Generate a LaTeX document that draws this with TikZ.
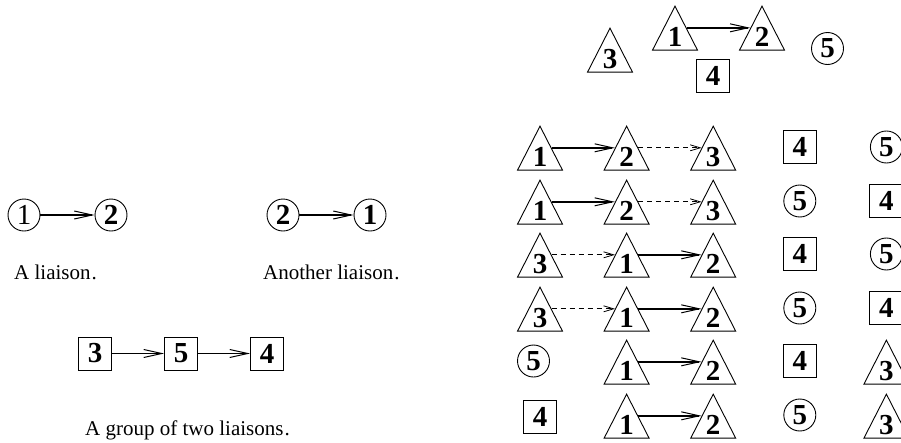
\documentclass[tikz,border=0pt]{standalone}
\usepackage{fontspec}
\setmainfont{Liberation Serif}
\usetikzlibrary{arrows.meta,shapes.geometric}
\tikzset{>/.tip={Straight Barb[length=18pt,width=8pt,line width=1pt]},
  num/.style={inner sep=0pt, line width=0.9pt, font=\fontsize{29}{29}\selectfont\bfseries},
  ball/.style={num, draw, circle, minimum size=32pt},
  box/.style={num, draw, minimum size=33pt},
  cone/.style={num, draw, isosceles triangle, isosceles triangle stretches,
    shape border rotate=90, minimum width=45pt, minimum height=44pt, anchor=apex},
  liaison/.style={->, line width=1.8pt},
  weak/.style={-{Straight Barb[length=10pt,width=6pt,line width=0.8pt]},
    line width=0.8pt, dash pattern=on 5pt off 4pt},
  caption/.style={inner sep=0pt, anchor=base west, font=\fontsize{21}{21}\selectfont}}

\begin{document}
\begin{tikzpicture}[x=1pt,y=-1pt]
\useasboundingbox (0,0) rectangle (901,442);
\clip (0,0) rectangle (901,442);
% left: liaisons
\node[ball, font=\fontsize{29}{29}\selectfont] (a1) at (24,215) {1};
\node[ball] (a2) at (111,215) {2};
\draw[liaison] (a1) to (a2);
\node[caption] (atxt) at (14,279.5) {A liaison\kern1pt.};
\node[ball] (b2) at (283,215) {2};
\node[ball] (b1) at (370,215) {1};
\draw[liaison] (b2) to (b1);
\node[caption] (btxt) at (263,279.5) {Another liaison\kern1pt.};
\node[box] (g3) at (95,353.5) {3};
\node[box] (g5) at (181,353.5) {5};
\node[box] (g4) at (267,353.5) {4};
\draw[liaison] (g3) to (g5);
\draw[liaison] (g5) to (g4);
\node[caption] (gtxt) at (85,435) {A group of two liaisons\kern1pt.};
% top right: the objects (triangles placed by their apex)
\node[cone] (t3) at (610,27) {3};
\node[cone] (t1) at (675,5) {1};
\node[cone] (t2) at (762,5) {2};
\node[box] (t4) at (713,76) {4};
\node[ball] (t5) at (827.5,48.5) {5};
\draw[liaison] (t1.right side) to (t2.left side);
% right: the orderings
\node[cone] (r1a) at (540,125) {1};
\node[cone] (r1b) at (626.6,125) {2};
\node[cone] (r1c) at (713.2,125) {3};
\node[box]  (r1d) at (799.8,147) {4};
\node[ball] (r1e) at (886.4,147) {5};
\node[cone] (r2a) at (540,179) {1};
\node[cone] (r2b) at (626.6,179) {2};
\node[cone] (r2c) at (713.2,179) {3};
\node[ball] (r2d) at (799.8,201) {5};
\node[box]  (r2e) at (886.4,201) {4};
\node[cone] (r3a) at (540,232) {3};
\node[cone] (r3b) at (626.6,232) {1};
\node[cone] (r3c) at (713.2,232) {2};
\node[box]  (r3d) at (799.8,254) {4};
\node[ball] (r3e) at (886.4,254) {5};
\node[cone] (r4a) at (540,286) {3};
\node[cone] (r4b) at (626.6,286) {1};
\node[cone] (r4c) at (713.2,286) {2};
\node[ball] (r4d) at (799.8,308) {5};
\node[box]  (r4e) at (886.4,308) {4};
\node[ball] (r5a) at (533.5,361) {5};
\node[cone] (r5b) at (626.6,339) {1};
\node[cone] (r5c) at (713.2,339) {2};
\node[box]  (r5d) at (799.8,361) {4};
\node[cone] (r5e) at (886.4,339) {3};
\node[box]  (r6a) at (540,417) {4};
\node[cone] (r6b) at (626.6,393) {1};
\node[cone] (r6c) at (713.2,393) {2};
\node[ball] (r6d) at (799.8,415) {5};
\node[cone] (r6e) at (886.4,393) {3};
\foreach \r in {1,2}
{
  \draw[liaison] (r\r a.right side) to (r\r b.left side);
  \draw[weak] (r\r b.right side) to (r\r c.left side);
}
\foreach \r in {3,4}
{
  \draw[weak] (r\r a.right side) to (r\r b.left side);
  \draw[liaison] (r\r b.right side) to (r\r c.left side);
}
\foreach \r in {5,6}
  \draw[liaison] (r\r b.right side) to (r\r c.left side);
\end{tikzpicture}
\end{document}
